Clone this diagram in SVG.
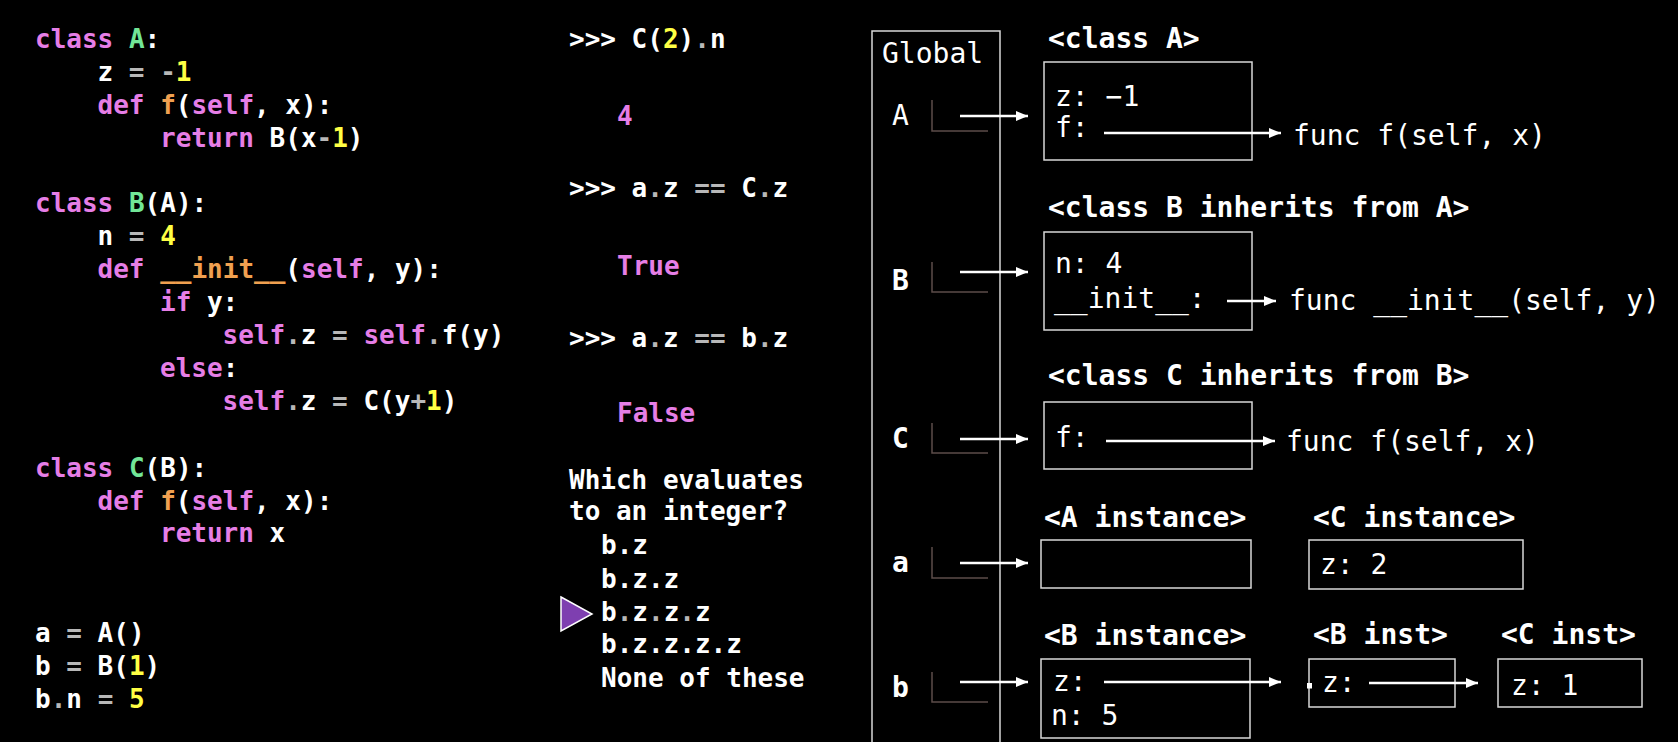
<svg xmlns="http://www.w3.org/2000/svg" width="1678" height="742" viewBox="0 0 1678 742">
<style>
.code{font-family:"DejaVu Sans Mono","Liberation Mono",monospace;font-weight:bold;font-size:26px;fill:#ffffff}
.mid{font-family:"DejaVu Sans Mono","Liberation Mono",monospace;font-weight:bold;font-size:26px;fill:#ffffff}
.kw{fill:#e67ee6}
.cls{fill:#72e697}
.fn{fill:#f0a050}
.num{fill:#ffff44}
.op{fill:#b8b8b8}
.t{font-family:"DejaVu Sans Mono","Liberation Mono",monospace;font-size:28px;fill:#ffffff}
.tb{font-family:"DejaVu Sans Mono","Liberation Mono",monospace;font-size:28px;font-weight:bold;fill:#ffffff}
.box{fill:none;stroke:#d8d8d8;stroke-width:1.5}
.ell{fill:none;stroke:#5c4c4a;stroke-width:1.5}
.arr{stroke:#ffffff;stroke-width:2.5;fill:none;marker-end:url(#ah)}
</style>
<defs>
<marker id="ah" markerUnits="userSpaceOnUse" markerWidth="13" markerHeight="11" refX="12" refY="5" orient="auto">
<path d="M0,0 L12,5 L0,10 Z" fill="#ffffff"/>
</marker>
</defs>
<rect width="1678" height="742" fill="#000000"/>

<g id="code">
<text class="code" x="35" y="48"><tspan class="kw">class</tspan> <tspan class="cls">A</tspan>:</text>
<text class="code" x="97.5" y="81">z <tspan class="op">=</tspan> <tspan class="op">-</tspan><tspan class="num">1</tspan></text>
<text class="code" x="97.5" y="114"><tspan class="kw">def</tspan> <tspan class="fn">f</tspan>(<tspan class="kw">self</tspan>, x):</text>
<text class="code" x="160" y="147"><tspan class="kw">return</tspan> B(x<tspan class="op">-</tspan><tspan class="num">1</tspan>)</text>
<text class="code" x="35" y="212"><tspan class="kw">class</tspan> <tspan class="cls">B</tspan>(A):</text>
<text class="code" x="97.5" y="245">n <tspan class="op">=</tspan> <tspan class="num">4</tspan></text>
<text class="code" x="97.5" y="278"><tspan class="kw">def</tspan> <tspan class="fn">__init__</tspan>(<tspan class="kw">self</tspan>, y):</text>
<text class="code" x="160" y="311"><tspan class="kw">if</tspan> y:</text>
<text class="code" x="222.5" y="344"><tspan class="kw">self</tspan><tspan class="op">.</tspan>z <tspan class="op">=</tspan> <tspan class="kw">self</tspan><tspan class="op">.</tspan>f(y)</text>
<text class="code" x="160" y="377"><tspan class="kw">else</tspan>:</text>
<text class="code" x="222.5" y="410"><tspan class="kw">self</tspan><tspan class="op">.</tspan>z <tspan class="op">=</tspan> C(y<tspan class="op">+</tspan><tspan class="num">1</tspan>)</text>
<text class="code" x="35" y="477"><tspan class="kw">class</tspan> <tspan class="cls">C</tspan>(B):</text>
<text class="code" x="97.5" y="510"><tspan class="kw">def</tspan> <tspan class="fn">f</tspan>(<tspan class="kw">self</tspan>, x):</text>
<text class="code" x="160" y="542"><tspan class="kw">return</tspan> x</text>
<text class="code" x="35" y="642">a <tspan class="op">=</tspan> A()</text>
<text class="code" x="35" y="675">b <tspan class="op">=</tspan> B(<tspan class="num">1</tspan>)</text>
<text class="code" x="35" y="708">b<tspan class="op">.</tspan>n <tspan class="op">=</tspan> <tspan class="num">5</tspan></text>
</g>

<g id="questions">
<text class="mid" x="569" y="48">&gt;&gt;&gt; C(<tspan class="num">2</tspan>)<tspan class="op">.</tspan>n</text>
<text class="mid kw" x="617" y="125">4</text>
<text class="mid" x="569" y="197">&gt;&gt;&gt; a<tspan class="op">.</tspan>z <tspan class="op">==</tspan> C<tspan class="op">.</tspan>z</text>
<text class="mid kw" x="617" y="275">True</text>
<text class="mid" x="569" y="347">&gt;&gt;&gt; a<tspan class="op">.</tspan>z <tspan class="op">==</tspan> b<tspan class="op">.</tspan>z</text>
<text class="mid kw" x="617" y="422">False</text>
<text class="mid" x="569" y="489">Which evaluates</text>
<text class="mid" x="569" y="520">to an integer?</text>
<text class="mid" x="601" y="554">b.z</text>
<text class="mid" x="601" y="588">b.z.z</text>
<text class="mid" x="601" y="621">b<tspan class="op">.</tspan>z<tspan class="op">.</tspan>z<tspan class="op">.</tspan>z</text>
<text class="mid" x="601" y="653">b.z.z.z.z</text>
<text class="mid" x="601" y="687">None of these</text>
<polygon points="561,597 592,614 561,631" fill="#7e3fb0" stroke="#ffffff" stroke-width="1.5"/>
</g>

<g id="global-frame">
<rect class="box" x="872" y="31" width="128" height="730"/>
<text class="t" x="882" y="63">Global</text>
<text class="t" x="892" y="125">A</text>
<path class="ell" d="M932,100 V131 H988"/>
<text class="tb" x="892" y="290">B</text>
<path class="ell" d="M932,262 V292 H988"/>
<text class="tb" x="892" y="448">C</text>
<path class="ell" d="M932,423 V453 H988"/>
<text class="tb" x="892" y="572">a</text>
<path class="ell" d="M932,547 V578 H988"/>
<text class="tb" x="892" y="697">b</text>
<path class="ell" d="M932,672 V702 H988"/>
</g>

<g id="class-A">
<text class="tb" x="1048" y="48">&lt;class A&gt;</text>
<rect class="box" x="1044" y="62" width="208" height="98"/>
<text class="t" x="1055" y="106">z: −1</text>
<text class="t" x="1055" y="137">f:</text>
</g>
<g id="func-f-A">
<text class="t" x="1293" y="145">func f(self, x)</text>
</g>

<g id="class-B">
<text class="tb" x="1048" y="217">&lt;class B inherits from A&gt;</text>
<rect class="box" x="1044" y="232" width="208" height="98"/>
<text class="t" x="1055" y="273">n: 4</text>
<text class="t" x="1054" y="308">__init__:</text>
</g>
<g id="func-init-B">
<text class="t" x="1289" y="310">func __init__(self, y)</text>
</g>

<g id="class-C">
<text class="tb" x="1048" y="385">&lt;class C inherits from B&gt;</text>
<rect class="box" x="1044" y="402" width="208" height="67"/>
<text class="t" x="1055" y="447">f:</text>
</g>
<g id="func-f-C">
<text class="t" x="1286" y="451">func f(self, x)</text>
</g>

<g id="A-instance">
<text class="tb" x="1044" y="527">&lt;A instance&gt;</text>
<rect class="box" x="1041" y="540" width="210" height="48"/>
</g>

<g id="C-instance">
<text class="tb" x="1313" y="527">&lt;C instance&gt;</text>
<rect class="box" x="1309" y="540" width="214" height="49"/>
<text class="t" x="1320" y="574">z: 2</text>
</g>

<g id="B-instance">
<text class="tb" x="1044" y="645">&lt;B instance&gt;</text>
<rect class="box" x="1041" y="659" width="209" height="79"/>
<text class="t" x="1053" y="691">z:</text>
<text class="t" x="1051" y="725">n: 5</text>
</g>

<g id="B-inst">
<text class="tb" x="1313" y="644">&lt;B inst&gt;</text>
<rect class="box" x="1309" y="659" width="146" height="48"/>
<rect x="1307" y="683" width="5" height="5.5" fill="#ffffff"/>
<text class="t" x="1322" y="692">z:</text>
</g>

<g id="C-inst">
<text class="tb" x="1501" y="644">&lt;C inst&gt;</text>
<rect class="box" x="1498" y="659" width="144" height="48"/>
<text class="t" x="1511" y="695">z: 1</text>
</g>

<g id="connectors">
<line class="arr" x1="960" y1="116" x2="1028" y2="116"/>
<line class="arr" x1="960" y1="272" x2="1028" y2="272"/>
<line class="arr" x1="960" y1="439" x2="1028" y2="439"/>
<line class="arr" x1="960" y1="563" x2="1028" y2="563"/>
<line class="arr" x1="960" y1="682" x2="1028" y2="682"/>
<line class="arr" x1="1104" y1="133" x2="1281" y2="133"/>
<line class="arr" x1="1227" y1="301" x2="1276" y2="301"/>
<line class="arr" x1="1106" y1="441" x2="1275" y2="441"/>
<line class="arr" x1="1104" y1="682" x2="1281" y2="682"/>
<line class="arr" x1="1369" y1="683" x2="1478" y2="683"/>
</g>
</svg>
